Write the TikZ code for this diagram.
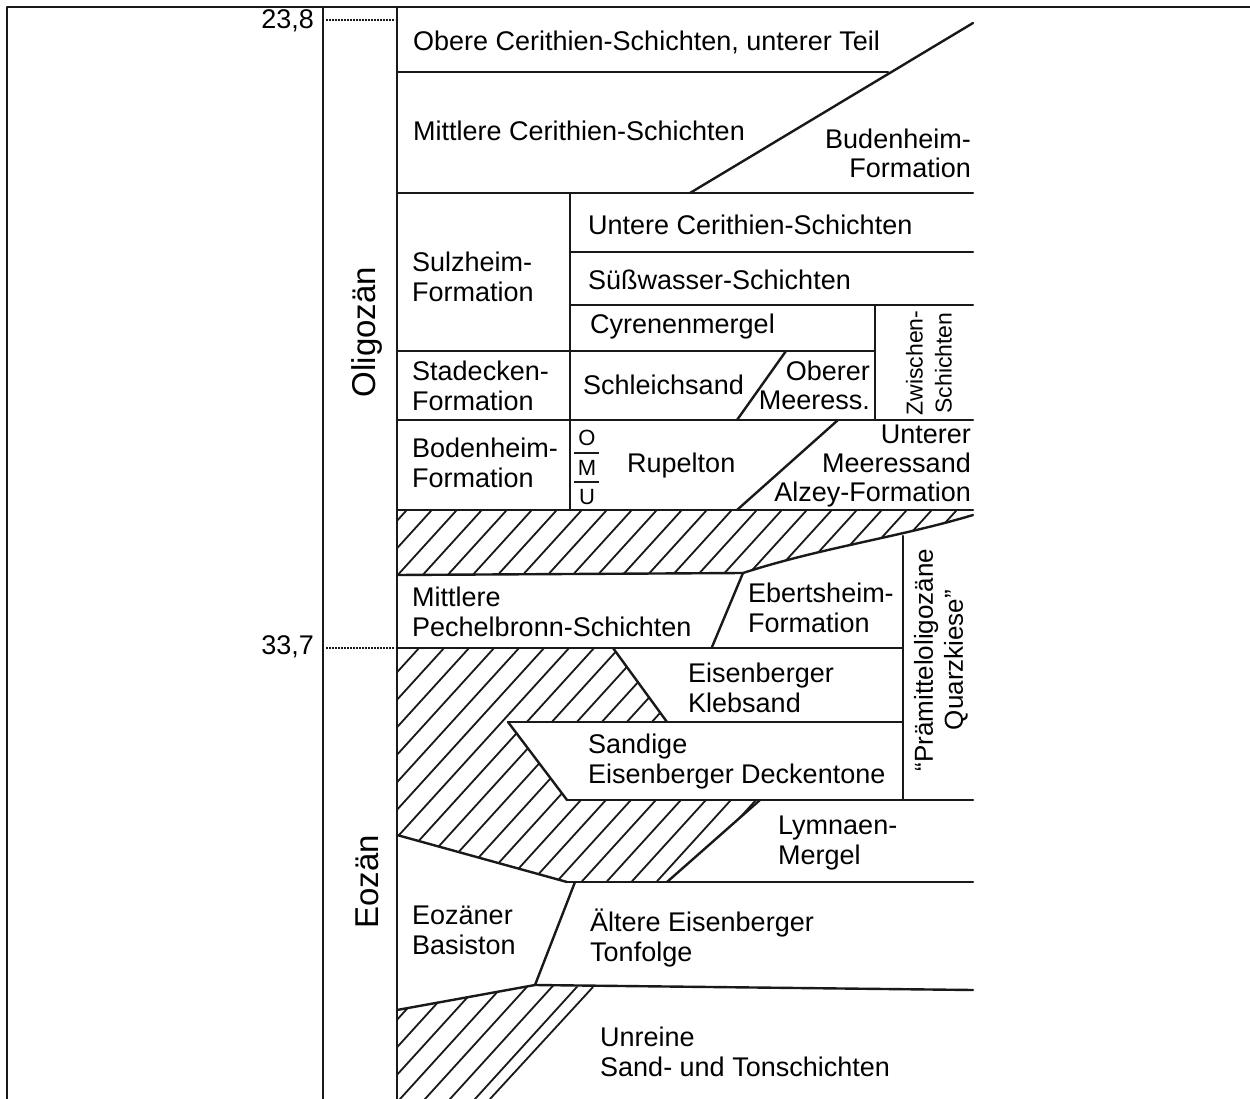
\documentclass[tikz,border=0pt]{standalone}
\usepackage{fontspec}
\setmainfont{Liberation Sans}
\begin{document}
\begin{tikzpicture}[x=1pt,y=-1pt]
\tikzset{
  ln/.style={line width=2.4pt, line cap=round, line join=round, draw=black!90},
  hl/.style={line width=1.8pt, draw=black!90},
  dl/.style={line width=2pt, densely dotted, draw=black!90},
  lbl/.style={font=\fontsize{27}{30}\selectfont, inner sep=0pt, align=left, anchor=west, text=black},
  lblr/.style={font=\fontsize{27}{29}\selectfont, inner sep=0pt, align=right, anchor=east, text=black},
  vlbl/.style={font=\fontsize{26}{30}\selectfont, inner sep=0pt, align=center, rotate=90, text=black},
  big/.style={font=\fontsize{33}{36}\selectfont, inner sep=0pt, rotate=90, text=black},
  small/.style={font=\fontsize{22}{24}\selectfont, inner sep=0pt, text=black}
}
\useasboundingbox (0,0) rectangle (1250,1099);
\fill[white] (0,0) rectangle (1250,1099);

% ---------- hatched regions ----------
\begin{scope}
  \clip (397,510) -- (973,510) -- (973,515) .. controls (900,537) and (820,548) .. (743,573) -- (397,575) -- cycle;
  \foreach \k in {0,...,28} \draw[hl] ({300+\k*25},600) -- ++(110,-121);
\end{scope}
\begin{scope}
  \clip (397,648) -- (613,648) -- (667,722) -- (508,722) -- (567,800) -- (760,800) -- (667,882) -- (567,882) -- (397,835) -- cycle;
  \foreach \k in {0,...,26} \draw[hl] ({140+\k*25},900) -- ++(250,-275);
\end{scope}
\begin{scope}
  \clip (397,1010) -- (535,985) -- (593,987) -- (490,1099) -- (397,1099) -- cycle;
  \foreach \k in {0,...,14} \draw[hl] ({240+\k*25},1110) -- ++(130,-143);
\end{scope}
\draw[hl] (593,987) -- (490,1099);

% ---------- frame and axis ----------
\draw[ln] (7,1099) -- (7,7) -- (1250,7);
\draw[ln] (323,7) -- (323,1099);
\draw[ln] (397,7) -- (397,1099);
\draw[dl] (326,20) -- (395,20);
\draw[dl] (326,648) -- (395,648);

% ---------- upper part ----------
\draw[ln] (397,72) -- (888,72);
\draw[ln] (973,23) -- (690,193);
\draw[ln] (397,193) -- (973,193);
\draw[ln] (570,193) -- (570,510);
\draw[ln] (570,252) -- (973,252);
\draw[ln] (570,305) -- (973,305);
\draw[ln] (397,351) -- (875,351);
\draw[ln] (875,305) -- (875,420);
\draw[ln] (786,351) -- (737,420);
\draw[ln] (397,420) -- (973,420);
\draw[ln] (838,420) -- (737,510);
\draw[hl] (574,453) -- (599,453);
\draw[hl] (574,482) -- (599,482);
\draw[ln] (397,510) -- (973,510);

% ---------- middle part ----------
\draw[ln] (397,575) -- (743,573) .. controls (820,548) and (900,537) .. (973,515);
\draw[ln] (903,536) -- (903,800);
\draw[ln] (743,573) -- (712,647);
\draw[ln] (397,648) -- (903,648);
\draw[ln] (613,648) -- (667,722);
\draw[ln] (508,722) -- (903,722);
\draw[ln] (508,722) -- (567,800);
\draw[ln] (567,800) -- (973,800);
\draw[ln] (760,800) -- (667,882);
\draw[ln] (567,882) -- (973,882);
\draw[ln] (397,835) -- (567,882);

% ---------- lower part ----------
\draw[ln] (575,882) -- (535,985);
\draw[ln] (535,985) -- (973,990);
\draw[ln] (397,1010) -- (535,985);

% ---------- labels ----------
\node[lblr] (a238) at (314,21) {23,8};
\node[lblr] (a337) at (314,647) {33,7};
\node[big] (olig) at (367,332) {Oligozän};
\node[big] (eoz) at (367,882) {Eozän};

\node[lbl] (ocs) at (413,42) {Obere Cerithien-Schichten, unterer Teil};
\node[lbl] (mcs) at (413,131) {Mittlere Cerithien-Schichten};
\node[lblr] (bud) at (971,153) {Budenheim-\\Formation};
\node[lbl] (sul) at (412,277) {Sulzheim-\\Formation};
\node[lbl] (ucs) at (588,225) {Untere Cerithien-Schichten};
\node[lbl] (sws) at (588,280) {Süßwasser-Schichten};
\node[lbl] (cyr) at (590,327) {Cyrenenmergel};
\node[lbl] (sta) at (412,386) {Stadecken-\\Formation};
\node[lbl] (sch) at (583,385) {Schleichsand};
\node[lblr] (obm) at (870,385) {Oberer\\Meeress.};
\node[vlbl, font=\fontsize{23}{29}\selectfont] (zwi) at (929,363) {Zwischen-\\Schichten};
\node[lbl] (bod) at (412,463) {Bodenheim-\\Formation};
\node[small] (o) at (587,438) {O};
\node[small] (m) at (587,468) {M};
\node[small] (u) at (587,497) {U};
\node[lbl] (rup) at (627,466) {Rupelton};
\node[lblr] (umz) at (971,466) {Unterer\\Meeressand\\Alzey-Formation};
\node[lbl] (mps) at (412,612) {Mittlere\\Pechelbronn-Schichten};
\node[lbl] (ebf) at (748,608) {Ebertsheim-\\Formation};
\node[lbl] (ekl) at (688,688) {Eisenberger\\Klebsand};
\node[lbl] (sed) at (588,762) {Sandige\\Eisenberger Deckentone};
\node[vlbl] (pqk) at (941,660) {``Prämitteloligozäne\\Quarzkiese''};
\node[lbl] (lym) at (778,843) {Lymnaen-\\Mergel};
\node[lbl] (ebs) at (412,930) {Eozäner\\Basiston};
\node[lbl] (aet) at (590,938) {Ältere Eisenberger\\Tonfolge};
\node[lbl] (ust) at (600,1052) {Unreine\\Sand- und Tonschichten};
\end{tikzpicture}
\end{document}
